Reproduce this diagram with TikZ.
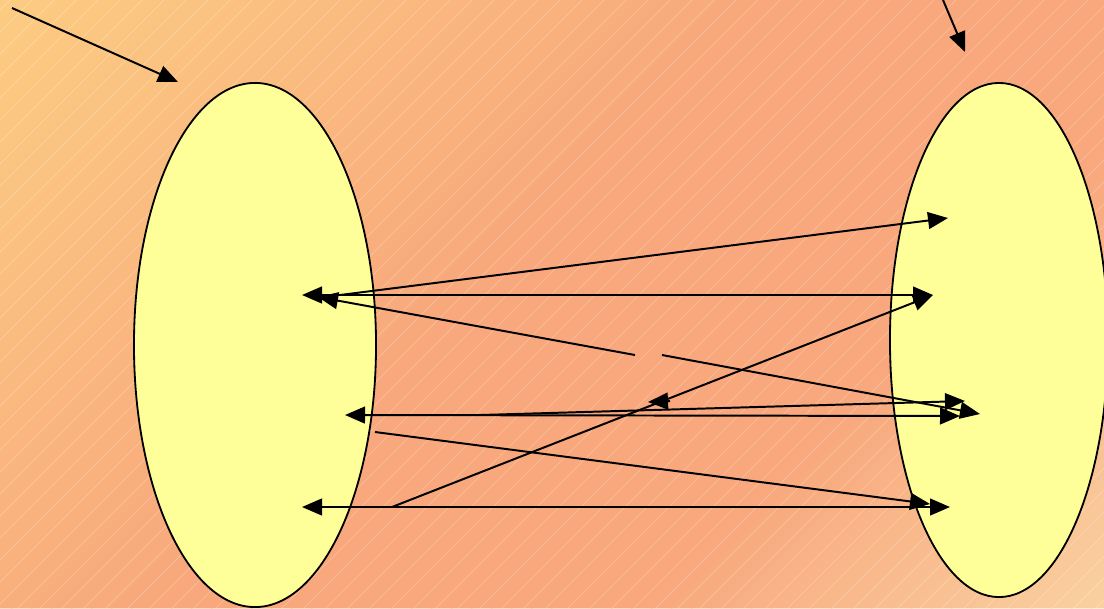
\documentclass[tikz,border=0pt]{standalone}
\usepackage{xcolor}
\usepackage{tikz}
\usetikzlibrary{shapes.geometric,arrows.meta}

\definecolor{fondoA}{RGB}{252,204,130}
\definecolor{fondoB}{RGB}{248,168,124}
\definecolor{fondoC}{RGB}{250,210,162}
\definecolor{conjunto}{RGB}{255,255,153}

\tikzset{
  conj/.style={ellipse, draw=black, line width=1.3pt, fill=conjunto, inner sep=0pt},
  flecha/.style={line width=1.4pt, -{Triangle[length=0.5cm,width=0.42cm]}},
  dflecha/.style={line width=1.4pt, {Triangle[length=0.5cm,width=0.42cm]}-{Triangle[length=0.5cm,width=0.42cm]}}
}

\begin{document}
\begin{tikzpicture}[x=0.025cm, y=-0.025cm]
% (x , y) en pixeles de la figura
\useasboundingbox (0,0) rectangle (1104,608);
\begin{scope}
\clip (0,0) rectangle (1104,608);
%% degradado diagonal del fondo (bandas x+y=s) %%%%%%
\foreach \iS in {0,20,...,1720}{
\pgfmathtruncatemacro{\pA}{min(100,\iS/7.5)}
\pgfmathtruncatemacro{\pQ}{100-max(0,(\iS-1250)/4.7)}
\fill[fondoB!\pA!fondoA!\pQ!fondoC, draw=fondoB!\pA!fondoA!\pQ!fondoC, line width=0.6pt]
  (\iS,0) -- (\iS+20,0) -- (\iS-588,608) -- (\iS-608,608) -- cycle;
}
%% rayado diagonal del fondo %%%%%%%%%%
\foreach \iX in {-620,-598,...,1120}{
\draw[white, opacity=0.3, line width=0.3pt] (\iX,608) -- (\iX+608,0);
}

%% los dos conjuntos %%%%%%%%%%%%%%%%%%
\node[conj, minimum width=6.05cm, minimum height=13.1cm] (dom) at (255,345) {};
\node[conj, minimum width=5.45cm, minimum height=12.85cm] (cod) at (999,340) {};
\end{scope}

%% puntos de salida y llegada %%%%%%%%%
\coordinate (a1) at (12,8);      \coordinate (a2) at (178,82);
\coordinate (b1) at (943,0);     \coordinate (b2) at (965,52);
\coordinate (d1) at (302,295);   \coordinate (d2) at (340,295);
\coordinate (d3) at (318,297);
\coordinate (d4) at (392,507);   \coordinate (d5) at (302,507);
\coordinate (d6) at (345,415);   \coordinate (d7) at (480,415);
\coordinate (d8) at (375,432);
\coordinate (c1) at (948,218);   \coordinate (c2) at (933,295);
\coordinate (c3) at (980,414);   \coordinate (c4) at (960,416);
\coordinate (c5) at (965,401);   \coordinate (c6) at (930,504);
\coordinate (c7) at (950,507);
\coordinate (m1) at (635,355);   \coordinate (m2) at (662,355);
\coordinate (m3) at (670,401);   \coordinate (m4) at (648,402);

%% flechas %%%%%%%%%%%%%%%%%%%%%%%%%%%%
\draw[flecha] (a1) -- (a2);
\draw[flecha] (b1) -- (b2);
\draw[flecha] (d2) -- (c1);
\draw[dflecha] (d1) -- (c2);
\draw[flecha] (m1) -- (d3);
\draw[flecha] (m2) -- (c3);
\draw[dflecha] (d6) -- (c4);
\draw[flecha] (d7) -- (c5);
\draw[flecha] (d8) -- (c6);
\draw[dflecha] (d5) -- (c7);
\draw[flecha] (d4) -- (c2);
\draw[flecha] (m3) -- (m4);
\end{tikzpicture}
\end{document}
